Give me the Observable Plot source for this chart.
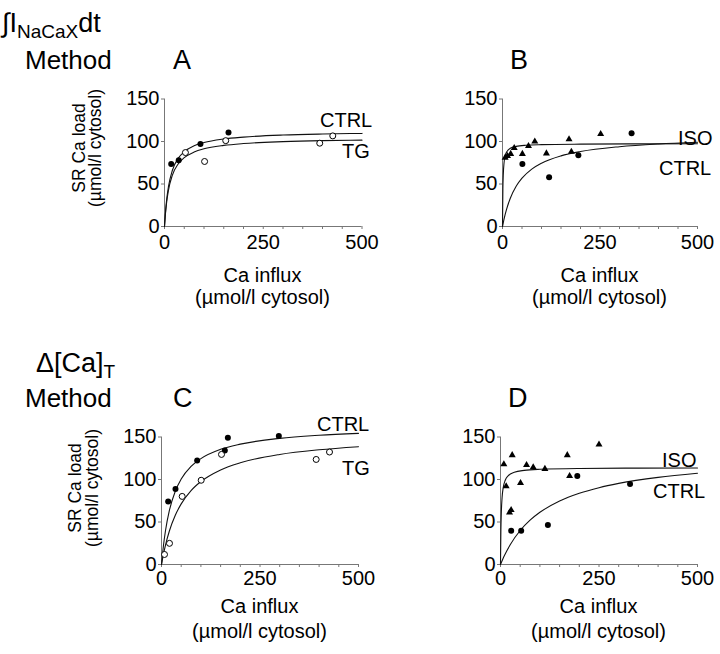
<!DOCTYPE html>
<html><head><meta charset="utf-8">
<script src="https://cdn.jsdelivr.net/npm/d3@7"></script>
<script src="https://cdn.jsdelivr.net/npm/@observablehq/plot@0.6"></script>
<style>
body{margin:0;background:#fff;}
#wrap{position:relative;width:720px;height:654px;overflow:hidden;background:#fff;}
#wrap svg{position:absolute;left:0;top:0;max-width:none;background:transparent;overflow:visible;}
</style></head><body><div id="wrap"></div>
<script>
// ---------- axis ticks ----------
const xTicks = [0, 250, 500];
const xMinorTicks = [0, 50, 100, 150, 200, 250, 300, 350, 400, 450, 500];
const yTicks = [0, 50, 100, 150];

// ---------- Panel A (∫I NaCaX dt, CTRL vs TG) ----------
const aCtrlX = [17, 36, 91, 162];
const aCtrlY = [73.5, 78, 97, 110.5];
const aTgX = [53, 101.5, 155, 393, 426];
const aTgY = [87, 76.5, 101, 98, 106.6];
const aFitX = [0, 2, 5, 10, 20, 35, 50, 75, 100, 150, 200, 300, 400, 500];
const aCtrlFit = [0, 14.1, 29.6, 46.9, 66.2, 80.4, 88, 94.9, 98.8, 103, 105.2, 107.6, 108.8, 109.5];
const aTgFit = [0, 12.6, 26.7, 42.6, 60.5, 73.9, 81, 87.6, 91.4, 95.4, 97.6, 99.8, 101, 101.6];

// ---------- Panel B (∫I NaCaX dt, ISO vs CTRL) ----------
const bIsoX = [6.8, 12.8, 21, 30, 51, 66.6, 82.8, 112.6, 170.6, 176.6, 251.7];
const bIsoY = [81, 83, 85.4, 92.4, 85.4, 94.8, 99.9, 86, 102.6, 88, 108.9];
const bCtrlX = [51, 119.5, 194.5, 331];
const bCtrlY = [73.6, 58, 83.8, 109.7];
const bIsoFitX = [0, 1, 2, 4, 7, 12, 20, 35, 60, 100, 200, 350, 500];
const bIsoFit = [0, 44.3, 60.9, 75, 83.2, 88.6, 92, 94.3, 95.6, 96.3, 96.9, 97.2, 97.3];
const bCtrlFitX = [0, 5, 10, 20, 35, 50, 75, 100, 150, 200, 300, 400, 500];
const bCtrlFit = [0, 10.8, 19.6, 33.2, 47.3, 56.8, 67.5, 74.5, 83.1, 88.2, 93.9, 97.1, 99.1];

// ---------- Panel C (Δ[Ca]T, CTRL vs TG) ----------
const cCtrlX = [16.9, 35.5, 90.5, 160.7, 168.4, 297.8];
const cCtrlY = [74.2, 88.8, 122.4, 134.2, 149.2, 151.2];
const cTgX = [7.6, 20.3, 52.5, 100.7, 152.3, 392.6, 426.4];
const cTgY = [11.8, 24.9, 80.1, 99.1, 129.5, 123.6, 132.3];
const cFitX = [0, 5, 10, 20, 35, 50, 75, 100, 150, 200, 300, 400, 500];
const cCtrlFit = [0, 22.4, 39.4, 63.6, 86.2, 100.5, 115.4, 124.6, 135.5, 141.6, 148.4, 152, 154.3];
const cTgFit = [0, 12.2, 22.6, 39.4, 57.9, 71.3, 86.9, 97.6, 111.3, 119.7, 129.5, 135, 138.6];

// ---------- Panel D (Δ[Ca]T, ISO vs CTRL) ----------
const dIsoX = [8.5, 29.7, 14.4, 22.9, 27, 50.8, 66.1, 83, 112.7, 169.5, 175.4, 250];
const dIsoY = [117.9, 128.7, 92, 61.1, 64, 95.9, 117.1, 114.4, 112.5, 128.7, 104, 141.1];
const dCtrlX = [27.1, 52.5, 120.3, 194.9, 328.8];
const dCtrlY = [39.8, 39.8, 46.4, 104, 94.7];
const dIsoFitX = [0, 1, 2, 4, 7, 12, 20, 35, 60, 100, 200, 350, 500];
const dIsoFit = [0, 40.7, 60, 78.6, 90.7, 99.1, 104.6, 108.4, 110.7, 112, 113, 113.4, 113.6];
const dCtrlFitX = [0, 10, 25, 50, 75, 100, 150, 200, 250, 300, 400, 500];
const dCtrlFit = [0, 10.6, 23.6, 40, 52.1, 61.4, 74.7, 83.8, 90.4, 95.4, 102.5, 107.3];

// ---------- helpers ----------
const W = 720, H = 654;
const FONT = "'Liberation Sans', Arial, Helvetica, sans-serif";
const zip = (xs, ys) => xs.map((x, i) => ({x, y: ys[i]}));

function panel(box, series) {
  const marks = [
    Plot.ruleY([0], {stroke: "#777", strokeWidth: 1}),
    Plot.ruleX([0], {stroke: "#777", strokeWidth: 1}),
    Plot.axisX({ticks: xMinorTicks, tickSize: 3, tickFormat: () => "", stroke: "#777", label: null}),
    Plot.axisX({ticks: xTicks, tickSize: 0, tickPadding: box.pad, fontSize: 20, label: null, fill: "#000"}),
    Plot.axisY({ticks: yTicks, tickSize: 3, tickPadding: 2, fontSize: 20, label: null, stroke: "#777", fill: "#000"})
  ];
  for (const s of series) {
    if (s.type === "line") {
      marks.push(Plot.line(zip(s.x, s.y), {x: "x", y: "y", curve: "monotone-x", stroke: "#111", strokeWidth: 1.1}));
    } else if (s.type === "filled") {
      marks.push(Plot.dot(zip(s.x, s.y), {x: "x", y: "y", r: 3, fill: "#000", stroke: "none"}));
    } else if (s.type === "open") {
      marks.push(Plot.dot(zip(s.x, s.y), {x: "x", y: "y", r: 3, fill: "#fff", stroke: "#000", strokeWidth: 1}));
    } else if (s.type === "tri") {
      marks.push(Plot.dot(zip(s.x, s.y), {x: "x", y: "y", r: 2.6, symbol: "triangle", fill: "#000", stroke: "none"}));
    }
  }
  return Plot.plot({
    width: W, height: H,
    marginLeft: box.l, marginRight: W - box.r, marginTop: box.t, marginBottom: H - box.b,
    x: {domain: [0, 500]},
    y: {domain: [0, 150]},
    style: {fontFamily: FONT, background: "transparent", overflow: "visible"},
    marks
  });
}

const wrap = document.getElementById("wrap");
wrap.append(panel({l: 164, r: 361.5, t: 98.5, b: 226, pad: 8}, [
  {type: "line", x: aFitX, y: aCtrlFit},
  {type: "line", x: aFitX, y: aTgFit},
  {type: "filled", x: aCtrlX, y: aCtrlY},
  {type: "open", x: aTgX, y: aTgY}
]));
wrap.append(panel({l: 502, r: 697, t: 98.5, b: 226, pad: 8}, [
  {type: "line", x: bIsoFitX, y: bIsoFit},
  {type: "line", x: bCtrlFitX, y: bCtrlFit},
  {type: "tri", x: bIsoX, y: bIsoY},
  {type: "filled", x: bCtrlX, y: bCtrlY}
]));
wrap.append(panel({l: 161, r: 358, t: 436.5, b: 564, pad: 6}, [
  {type: "line", x: cFitX, y: cCtrlFit},
  {type: "line", x: cFitX, y: cTgFit},
  {type: "filled", x: cCtrlX, y: cCtrlY},
  {type: "open", x: cTgX, y: cTgY}
]));
wrap.append(panel({l: 500, r: 697, t: 436.5, b: 564, pad: 6}, [
  {type: "line", x: dIsoFitX, y: dIsoFit},
  {type: "line", x: dCtrlFitX, y: dCtrlFit},
  {type: "tri", x: dIsoX, y: dIsoY},
  {type: "filled", x: dCtrlX, y: dCtrlY}
]));

// ---------- text overlay ----------
const svg = d3.create("svg").attr("width", W).attr("height", H)
  .style("font-family", FONT).attr("fill", "#000");
function txt(x, y, s, fs, anchor = "start", rotate = false) {
  const t = svg.append("text").attr("font-size", fs).attr("text-anchor", anchor);
  if (rotate) t.attr("transform", `translate(${x},${y}) rotate(-90)`);
  else t.attr("x", x).attr("y", y);
  t.text(s);
  return t;
}
// method headings
const t1 = svg.append("text").attr("x", 2).attr("y", 32).attr("font-size", 27);
t1.append("tspan").text("\u222BI");
t1.append("tspan").attr("font-size", 19).attr("dy", 6).text("NaCaX");
t1.append("tspan").attr("dy", -6).text("dt");
txt(25, 69, "Method", 26);
const t2 = svg.append("text").attr("x", 36).attr("y", 372).attr("font-size", 27);
t2.append("tspan").text("\u0394[Ca]");
t2.append("tspan").attr("font-size", 19).attr("dy", 6).text("T");
txt(25, 407, "Method", 26);
// panel letters
txt(173, 69, "A", 27);
txt(510, 69, "B", 27);
txt(173, 407, "C", 27);
txt(508, 407, "D", 27);
// series labels
txt(320, 127, "CTRL", 20);
txt(342, 158, "TG", 20);
txt(678, 145, "ISO", 20);
txt(659, 175, "CTRL", 20);
txt(317, 431, "CTRL", 20);
txt(342, 475, "TG", 20);
txt(662, 467, "ISO", 20);
txt(653, 498, "CTRL", 20);
// x axis titles
for (const [cx, b1, b2] of [[262.5, 282, 304], [599.5, 282, 304], [259.5, 613, 638], [598.5, 613, 638]]) {
  txt(cx, b1, "Ca influx", 20, "middle");
  txt(cx, b2, "(\u00B5mol/l cytosol)", 20, "middle");
}
// y axis titles
txt(85, 148, "SR Ca load", 17.5, "middle", true);
txt(101, 148, "(\u00B5mol/l cytosol)", 17.5, "middle", true);
txt(81, 488, "SR Ca load", 17.5, "middle", true);
txt(98, 488, "(\u00B5mol/l cytosol)", 17.5, "middle", true);
wrap.append(svg.node());
</script></body></html>
